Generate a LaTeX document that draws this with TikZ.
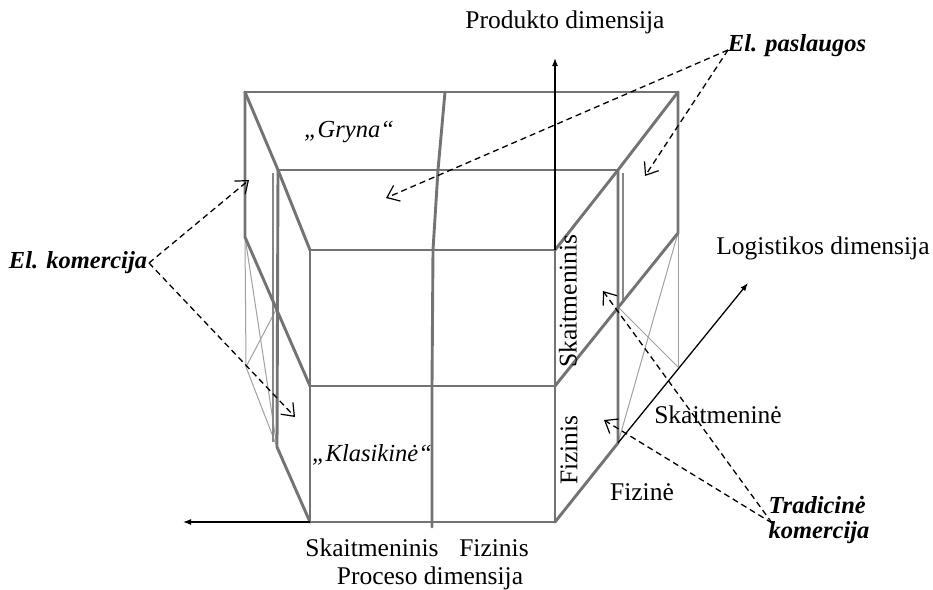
\documentclass[tikz,border=0pt]{standalone}
\usepackage{fontspec}
\setmainfont{Liberation Serif}
\usetikzlibrary{arrows.meta}
\definecolor{edgegray}{RGB}{115,115,115}
\definecolor{thingray}{RGB}{160,160,160}
\definecolor{echogray}{RGB}{135,135,135}
\begin{document}
\begin{tikzpicture}[x=1pt,y=-1pt,
  edge/.style={draw=edgegray, line width=2.9pt, line cap=round, line join=round},
  edgethin/.style={draw=thingray, line width=1pt},
  edgeecho/.style={draw=echogray, line width=1.6pt},
  axis/.style={draw=black, line width=1.3pt, -{Latex[length=8pt,width=6pt]}},
  callout/.style={draw=black, line width=1.3pt, dash pattern=on 6pt off 4pt, -{Straight Barb[length=11pt,width=17pt,line width=1.2pt]}},
  lbl/.style={inner sep=0pt, font=\fontsize{25.5}{29}\selectfont},
  ilbl/.style={inner sep=0pt, font=\fontsize{24.5}{28}\selectfont\itshape},
  blbl/.style={inner sep=0pt, font=\fontsize{24.5}{25}\selectfont\bfseries\itshape, align=left},
]
\useasboundingbox (0,0) rectangle (933,589);

% front face vertices
\coordinate (A0) at (310,250); \coordinate (B0) at (433,250); \coordinate (C0) at (555,250);
\coordinate (A1) at (310,386); \coordinate (B1) at (432,386); \coordinate (C1) at (555,386);
\coordinate (A2) at (310,522); \coordinate (B2) at (432,522); \coordinate (C2) at (555,522);
\coordinate (B3) at (432,527);
% top layers
\coordinate (L1) at (278,170); \coordinate (M1) at (438,170); \coordinate (R1) at (618,170);
\coordinate (L2) at (245,92);  \coordinate (M2) at (445,92);  \coordinate (R2) at (678,92);
% wings
\coordinate (LW) at (245,237); \coordinate (LT) at (246,367); \coordinate (LM) at (277,308); \coordinate (LB) at (277,447);
\coordinate (RW) at (678,233); \coordinate (RT) at (678,367); \coordinate (RM) at (618,307); \coordinate (RB) at (618,443);
% axis ends
\coordinate (PT) at (555,58); \coordinate (PL) at (183,522); \coordinate (LG) at (748,283);

% thin construction lines
\draw[edgethin] (LW) -- (LT);
\draw[edgethin] (LW) -- (LB);
\draw[edgethin] (LT) -- (LM);
\draw[edgethin] (LT) -- (LB);
\draw[edgethin] (RW) -- (RT);
\draw[edgethin] (RW) -- (RB);
\draw[edgethin] (RM) -- (RT);

% echo lines
\draw[edgeecho] (273,173) -- (273,442);
\draw[edgeecho] (623,173) -- (623,300);

% thick edges
\draw[edge] (A0) -- (C0);
\draw[edge] (A1) -- (C1);
\draw[edge] (A2) -- (C2);
\draw[edge] (A0) -- (A2);
\draw[edge] (C0) -- (C2);
\draw[edge] (M2) -- (M1) -- (B0) -- (B1) -- (B3);
\draw[edge] (L2) -- (R2);
\draw[edge] (L1) -- (R1);
\draw[edge] (L2) -- (L1) -- (A0);
\draw[edge] (R2) -- (R1) -- (C0);
\draw[edge] (L2) -- (LW) -- (A1);
\draw[edge] (L1) -- (LB) -- (A2);
\draw[edge] (R2) -- (RW) -- (C1);
\draw[edge] (R1) -- (RB) -- (C2);

% axes
\draw[axis] (C0) -- (PT);
\draw[axis] (A2) -- (PL);
\draw[axis] (RB) -- (LG);

% labels
\node[lbl] (prod) at (565,22) {Produkto dimensija};
\node[lbl] (logi) at (823,248) {Logistikos dimensija};
\node[lbl] (proc) at (430,578) {Proceso dimensija};
\node[lbl] (pskait) at (372,548) {Skaitmeninis};
\node[lbl] (pfiz) at (494,548) {Fizinis};
\node[lbl, rotate=90] (vskait) at (568,301) {Skaitmeninis};
\node[lbl, rotate=90] (vfiz) at (569,450) {Fizinis};
\node[lbl] (lskait) at (718,415) {Skaitmeninė};
\node[lbl] (lfiz) at (642,492) {Fizinė};
\node[ilbl] (gryna) at (349,132) {„Gryna“};
\node[ilbl] (klas) at (372,455) {„Klasikinė“};
\node[blbl] (ek) at (78,263) {El. komercija};
\node[blbl] (ep) at (797,46) {El. paslaugos};
\node[blbl] (tk) at (819,520) {Tradicinė\\komercija};

% callouts
\coordinate (ekO) at (149,263);
\coordinate (ekT1) at (249,180); \coordinate (ekT2) at (295,417);
\coordinate (epO) at (728,50);
\coordinate (epT1) at (386,198); \coordinate (epT2) at (645,176);
\coordinate (tkO) at (772,523);
\coordinate (tkT1) at (603,291); \coordinate (tkT2) at (604,420);
\draw[callout] (ekO) -- (ekT1);
\draw[callout] (ekO) -- (ekT2);
\draw[callout] (epO) -- (epT1);
\draw[callout] (epO) -- (epT2);
\draw[callout] (tkO) -- (tkT1);
\draw[callout] (tkO) -- (tkT2);
\end{tikzpicture}
\end{document}
